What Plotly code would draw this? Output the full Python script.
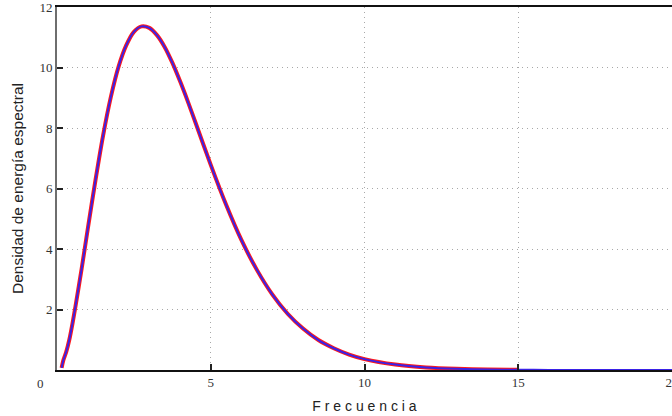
import plotly.graph_objects as go

# Values
freq = [0.15, 0.2, 0.3, 0.4, 0.5, 0.6, 0.8, 1.0, 1.25, 1.5, 1.75, 2.0, 2.25, 2.5, 2.75, 3.0,
        3.25, 3.5, 3.75, 4.0, 4.25, 4.5, 5.0, 5.5, 6.0, 6.5, 7.0, 7.5, 8.0, 8.5, 9.0, 9.5,
        10.0, 11.0, 12.0, 13.0, 14.0, 15.0]
dens_red = [0.07, 0.3, 0.6, 1.0, 1.52, 2.1, 3.34, 4.66, 6.27, 7.76, 9.02, 10.02, 10.73, 11.18, 11.36, 11.31,
            11.07, 10.68, 10.16, 9.55, 8.89, 8.19, 6.78, 5.46, 4.29, 3.31, 2.50, 1.86, 1.37, 0.99, 0.72, 0.51,
            0.36, 0.18, 0.085, 0.04, 0.017, 0.007]
freq_blue = freq + [16.0, 17.0, 18.0, 19.0, 20.0]
dens_blue = dens_red + [0.003, 0.001, 0.0, 0.0, 0.0]

x_ticks = [5, 10, 15, 20]
y_ticks = [2, 4, 6, 8, 10, 12]

fig = go.Figure()
fig.add_trace(go.Scatter(x=freq, y=dens_red, mode="lines",
                         line=dict(color="#ff1a1a", width=4, shape="spline", smoothing=0.8),
                         hoverinfo="skip", showlegend=False))
fig.add_trace(go.Scatter(x=freq_blue, y=dens_blue, mode="lines",
                         line=dict(color="#3a22e6", width=2, shape="spline", smoothing=0.8),
                         hoverinfo="skip", showlegend=False))

tickfont = dict(family="Liberation Serif", size=13, color="#333333")
grid = dict(showgrid=True, gridcolor="#a8a8a8", griddash="1px,4px", gridwidth=1)

fig.update_layout(
    width=672, height=416,
    margin=dict(l=57, r=0, t=7, b=46),
    plot_bgcolor="white", paper_bgcolor="white",
    xaxis=dict(
        range=[0, 20], tickvals=x_ticks, ticks="inside", ticklen=6, tickwidth=1.5,
        tickcolor="#222222", showline=True, linecolor="#111111", linewidth=1.5,
        mirror=True, zeroline=False, tickfont=tickfont, automargin=False,
        ticklabelstandoff=0, ticklabeloverflow="allow",
        title=dict(text="F r e c u e n c i a",
                   font=dict(family="Liberation Sans", size=14, color="#222222"),
                   standoff=12),
        **grid,
    ),
    yaxis=dict(
        range=[0, 12], tickvals=y_ticks, ticks="inside", ticklen=6, tickwidth=1.5,
        tickcolor="#222222", showline=True, linecolor="#6e6e6e", linewidth=2,
        zeroline=False, tickfont=tickfont, automargin=False,
        ticklabeloverflow="allow",
        title=dict(text="Densidad de energía espectral",
                   font=dict(family="Liberation Sans", size=15.5, color="#222222"),
                   standoff=12),
        **grid,
    ),
    annotations=[dict(x=0, y=0, xref="x", yref="y", text="0", showarrow=False,
                      xshift=-17, yshift=-13, font=tickfont)],
)

fig.write_html(
    "out.html",
    config={"displayModeBar": False},
    post_script="document.body.style.margin='0';document.body.style.overflow='hidden';",
)
